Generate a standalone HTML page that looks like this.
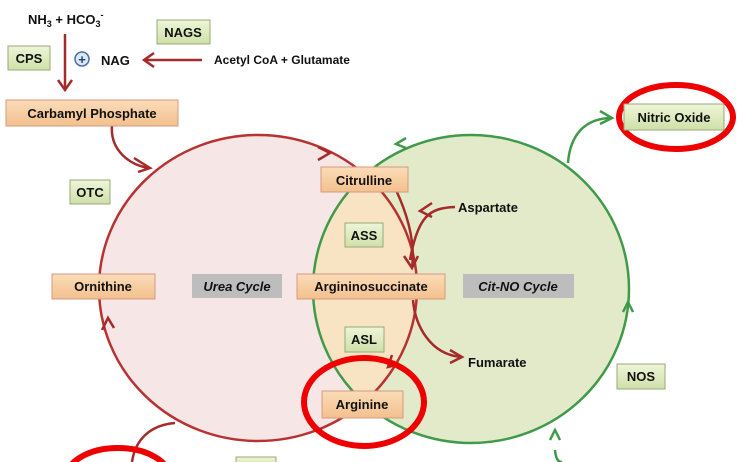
<!DOCTYPE html>
<html><head><meta charset="utf-8"><style>
html,body{margin:0;background:#fff;width:741px;height:462px;overflow:hidden;}
svg{display:block;font-family:"Liberation Sans",sans-serif;font-weight:bold;}
</style></head><body>
<svg width="741" height="462" viewBox="0 0 741 462" xmlns="http://www.w3.org/2000/svg">
<defs>
<linearGradient id="gg" x1="0" y1="0" x2="0" y2="1"><stop offset="0" stop-color="#eef5d8"/><stop offset="1" stop-color="#cfe0a8"/></linearGradient>
<linearGradient id="og" x1="0" y1="0" x2="0" y2="1"><stop offset="0" stop-color="#fbdcb8"/><stop offset="1" stop-color="#f3c08e"/></linearGradient>
<clipPath id="cr"><ellipse cx="258" cy="288" rx="159" ry="153"/></clipPath>
</defs>
<ellipse cx="258" cy="288" rx="159" ry="153" fill="#f7e6e6"/>
<ellipse cx="471" cy="289" rx="158" ry="154" fill="#e3eaca"/>
<ellipse cx="471" cy="289" rx="158" ry="154" fill="#f8e4c2" clip-path="url(#cr)"/>
<ellipse cx="258" cy="288" rx="159" ry="153" fill="none" stroke="#b83232" stroke-width="2.5"/>
<ellipse cx="471" cy="289" rx="158" ry="154" fill="none" stroke="#3f9a4a" stroke-width="2.5"/>
<g fill="none" stroke="#a52a2a" stroke-width="2.5">
<path d="M65 34 V88"/><path d="M58 80 L65 90 L72 80"/>
<path d="M202 60 H146"/><path d="M154 53 L144 60 L154 67"/>
<path d="M112 126 C110 150 130 166 150 168"/><path d="M134 158 L150 168 L138 172"/>
<path d="M318 147 l12 6 l-12 7"/>
<path d="M455 207 C430 208 418 215 410 260"/><path d="M432 203 l-12 8 l12 6"/>
<path d="M396 190 C410 220 415 245 412 268"/><path d="M404 256 l8 12 l6 -12"/>
<path d="M413 300 C415 325 430 355 462 357"/><path d="M450 350 l12 7 l-12 6"/>
<path d="M102 330 l6 -12 l6 10"/>
<path d="M392 355 l-4 12 l8 -2"/>
<path d="M175 423 C150 425 135 440 132 462"/>
</g>
<g fill="none" stroke="#3f9a4a" stroke-width="2.5">
<path d="M568 163 C570 135 585 118 612 118"/><path d="M600 111 l12 7 l-12 6"/>
<path d="M406 138 l-10 6 l10 4"/>
<path d="M623 312 l5 -10 l5 10"/>
<path d="M555 450 C556 462 560 462 562 462"/><path d="M550 440 l5 -10 l5 10"/>
</g>
<ellipse cx="676" cy="117" rx="57" ry="32" fill="none" stroke="#ee0000" stroke-width="6"/>
<ellipse cx="364" cy="402" rx="60" ry="44" fill="none" stroke="#ee0000" stroke-width="6"/>
<ellipse cx="118" cy="478" rx="52" ry="30" fill="none" stroke="#ee0000" stroke-width="6"/>
<g font-size="13" fill="#111">
<text x="28" y="24">NH<tspan font-size="9" dy="3">3</tspan><tspan dy="-3"> + HCO</tspan><tspan font-size="9" dy="3">3</tspan><tspan font-size="9" dy="-9">-</tspan></text>
<text x="101" y="65">NAG</text>
<text x="214" y="64" font-size="12">Acetyl CoA + Glutamate</text>
<text x="458" y="212">Aspartate</text>
<text x="468" y="367">Fumarate</text>
</g>
<circle cx="82" cy="59" r="7" fill="#dde8f5" stroke="#4a6fa5" stroke-width="1.5"/>
<text x="82" y="64" font-size="13" fill="#23436e" text-anchor="middle">+</text>
<g stroke="#9aa87a" stroke-width="1" fill="url(#gg)">
<rect x="157" y="20" width="53" height="24"/><rect x="8" y="46" width="42" height="24"/>
<rect x="70" y="180" width="40" height="24"/><rect x="345" y="223" width="38" height="24"/>
<rect x="345" y="327" width="39" height="25"/><rect x="617" y="364" width="48" height="25"/>
<rect x="624" y="104" width="100" height="26"/><rect x="236" y="457" width="40" height="10"/>
</g>
<g stroke="#d49a80" stroke-width="1" fill="url(#og)">
<rect x="6" y="100" width="172" height="26"/><rect x="321" y="167" width="87" height="25"/>
<rect x="52" y="274" width="103" height="25"/><rect x="297" y="274" width="148" height="25"/>
<rect x="322" y="391" width="81" height="27"/>
</g>
<rect x="192" y="274" width="90" height="24" fill="#bdbdbd"/>
<rect x="463" y="274" width="111" height="24" fill="#bdbdbd"/>
<g font-size="13" fill="#111" text-anchor="middle">
<text x="183" y="37">NAGS</text><text x="29" y="63">CPS</text>
<text x="92" y="118">Carbamyl  Phosphate</text>
<text x="90" y="197">OTC</text><text x="364" y="240">ASS</text>
<text x="364" y="344">ASL</text><text x="641" y="381">NOS</text>
<text x="674" y="122">Nitric Oxide</text>
<text x="364" y="185">Citrulline</text>
<text x="103" y="291">Ornithine</text>
<text x="371" y="291">Argininosuccinate</text>
<text x="362" y="409">Arginine</text>
<text x="237" y="291" font-style="italic">Urea Cycle</text>
<text x="518" y="291" font-style="italic">Cit-NO Cycle</text>
</g>
</svg>
</body></html>
